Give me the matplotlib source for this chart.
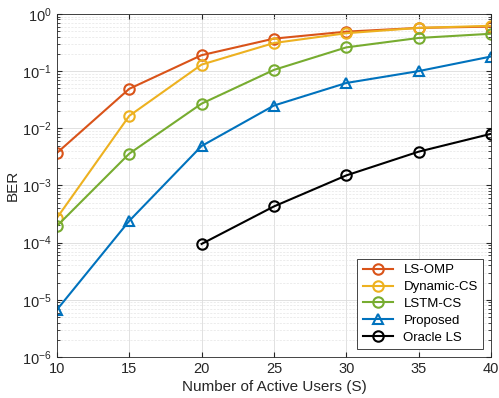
import numpy as np
import matplotlib
matplotlib.use("Agg")
import matplotlib.pyplot as plt

plt.rcParams["font.family"] = ["Liberation Sans", "DejaVu Sans"]

users = [10, 15, 20, 25, 30, 35, 40]
ber_ls_omp = [3.7e-3, 0.049, 0.19, 0.37, 0.49, 0.57, 0.60]
ber_dynamic_cs = [2.7e-4, 0.0165, 0.13, 0.31, 0.46, 0.57, 0.62]
ber_lstm_cs = [1.95e-4, 3.6e-3, 0.027, 0.105, 0.26, 0.38, 0.45]
ber_proposed = [6.7e-6, 2.4e-4, 4.9e-3, 0.025, 0.062, 0.10, 0.18]
users_oracle = [20, 25, 30, 35, 40]
ber_oracle = [9.5e-5, 4.3e-4, 1.5e-3, 3.9e-3, 8.0e-3]

fig = plt.figure(figsize=(4.99, 3.98), dpi=100)
ax = fig.add_axes([0.114, 0.103, 0.870, 0.862])

style = dict(lw=1.5, ms=7.5, mfc="none", mew=1.5)
ax.semilogy(users, ber_ls_omp, "-o", color=(0.85, 0.325, 0.098),
            label="LS-OMP", **style)
ax.semilogy(users, ber_dynamic_cs, "-o", color=(0.929, 0.694, 0.125),
            label="Dynamic-CS", **style)
ax.semilogy(users, ber_lstm_cs, "-o", color=(0.466, 0.674, 0.188),
            label="LSTM-CS", **style)
ax.semilogy(users, ber_proposed, "-^", color=(0, 0.447, 0.741),
            label="Proposed", **style)
ax.semilogy(users_oracle, ber_oracle, "-o", color="black",
            label="Oracle LS", **style)

ax.set_xlim(10, 40)
ax.set_ylim(1e-6, 1)
ax.set_xticks([10, 15, 20, 25, 30, 35, 40])
ax.set_yticks([1e-6, 1e-5, 1e-4, 1e-3, 1e-2, 1e-1, 1])
ax.grid(True, which="major", color="#dcdcdc", lw=0.6)
ax.grid(True, which="minor", color="#e4e4e4", lw=0.5, linestyle=(0, (3, 2)))
ax.tick_params(which="both", direction="in", top=True, right=True,
               colors="#262626", labelsize=10.5)
ax.tick_params(which="minor", length=2)
for s in ax.spines.values():
    s.set_color("#262626")
    s.set_linewidth(0.6)

ax.set_xlabel("Number of Active Users (S)", fontsize=11, color="#262626",
              labelpad=3)
ax.set_ylabel("BER", fontsize=11, color="#262626", labelpad=2)

leg = ax.legend(loc="lower right", fontsize=9.5, fancybox=False,
                edgecolor="#262626", framealpha=1, handlelength=2.3,
                borderaxespad=0.6, labelspacing=0.35)
leg.get_frame().set_linewidth(0.6)

fig.savefig("out.png", dpi=100)
